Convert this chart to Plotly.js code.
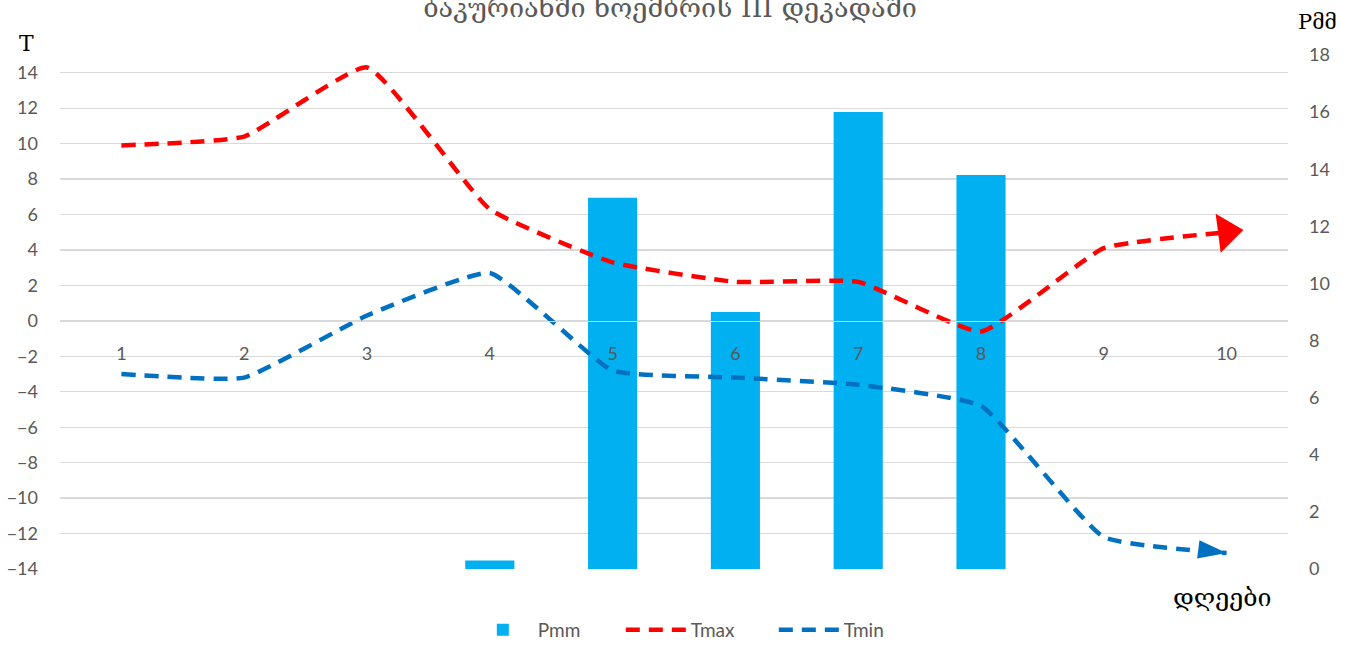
<!DOCTYPE html>
<html>
<head>
<meta charset="utf-8">
<script src="https://cdn.plot.ly/plotly-3.0.1.min.js"></script>
<style>html,body{margin:0;padding:0;background:#fff;}#chart{width:1359px;height:653px;}</style>
</head>
<body>
<div id="chart"></div>
<script>
// ---- data ----
const days = [1, 2, 3, 4, 5, 6, 7, 8, 9, 10];
const dayLabels = ['1', '2', '3', '4', '5', '6', '7', '8', '9', '10'];
const pmm = [0, 0, 0, 0.3, 13.0, 9.0, 16.0, 13.8, 0, 0];
const tmax = [9.9, 10.4, 14.3, 6.3, 3.3, 2.2, 2.2, -0.6, 4.1, 5.0];
const tmin = [-3.0, -3.2, 0.3, 2.7, -2.8, -3.2, -3.6, -4.8, -12.2, -13.1];
const leftTicks = [-14, -12, -10, -8, -6, -4, -2, 0, 2, 4, 6, 8, 10, 12, 14];
const rightTicks = [0, 2, 4, 6, 8, 10, 12, 14, 16, 18];
const titleText = 'ბაკურიანში ნოემბრის III დეკადაში';

const tickFont = {family: 'Lato, "Open Sans", sans-serif', size: 18, color: '#595959'};
const lastOnly = (arr, s) => arr.map((v, i) => i === arr.length - 1 ? s : 0);

const traces = [
  {
    type: 'bar', name: 'Pmm', x: days, y: pmm, yaxis: 'y', xaxis: 'x',
    marker: {color: '#00B0F0'}, width: 0.4
  },
  {
    type: 'scatter', mode: 'lines+markers', name: 'Tmax', x: days, y: tmax, yaxis: 'y2', xaxis: 'x',
    line: {color: '#FF0000', width: 4.5, dash: '14px,9px', shape: 'spline', smoothing: 0.4},
    marker: {symbol: 'triangle-up', angleref: 'previous', color: '#FF0000', opacity: 1,
             line: {width: 0}, size: lastOnly(tmax, 34)}
  },
  {
    type: 'scatter', mode: 'lines+markers', name: 'Tmin', x: days, y: tmin, yaxis: 'y2', xaxis: 'x',
    line: {color: '#0070C0', width: 4.5, dash: '14px,9px', shape: 'spline', smoothing: 0.4},
    marker: {symbol: 'arrow', angleref: 'previous', color: '#0070C0', opacity: 1,
             line: {width: 0}, size: lastOnly(tmin, 30)}
  }
];

const layout = {
  width: 1359, height: 653,
  margin: {l: 60, r: 71, t: 55, b: 84, autoexpand: false},
  paper_bgcolor: '#ffffff', plot_bgcolor: '#ffffff',
  showlegend: true,
  title: {text: titleText, x: 0.493, xanchor: 'center', yref: 'container', y: 0.988, yanchor: 'middle',
          font: {family: '"DejaVu Serif", serif', size: 27, color: '#595959'}},
  xaxis: {
    range: [0.5, 10.5], tickvals: days, ticktext: dayLabels,
    anchor: 'free', position: 14 / 29,
    showline: true, linecolor: '#D9D9D9', linewidth: 1.5,
    showgrid: false, zeroline: false, ticks: '',
    ticklabelstandoff: 16, tickfont: tickFont, fixedrange: true
  },
  yaxis: {
    side: 'right', range: [0, 18], tickvals: rightTicks,
    showgrid: false, zeroline: false, showline: false, ticks: '',
    ticklabelstandoff: 20, tickfont: tickFont
  },
  yaxis2: {
    side: 'left', overlaying: 'y', range: [-14, 15], tickvals: leftTicks,
    showgrid: true, gridcolor: '#D9D9D9', gridwidth: 1.3,
    zeroline: false, showline: false, ticks: '',
    ticklabelstandoff: 21, tickfont: tickFont
  },
  legend: {
    orientation: 'h', x: 0.519, xanchor: 'center', yref: 'container', y: 1 - 630 / 653, yanchor: 'middle',
    font: {family: 'Lato, "Open Sans", sans-serif', size: 19, color: '#595959'},
    itemwidth: 60, entrywidth: 78, traceorder: 'normal'
  },
  annotations: [
    {text: 'T', xref: 'paper', yref: 'paper', x: -0.027, y: 1.023, xanchor: 'center', yanchor: 'middle',
     showarrow: false, font: {family: '"DejaVu Serif", "Liberation Serif", serif', size: 22, color: '#000'}},
    {text: 'Pმმ', xref: 'paper', yref: 'paper', x: 1.024, y: 1.064, xanchor: 'center', yanchor: 'middle',
     showarrow: false, font: {family: '"DejaVu Serif", "Liberation Serif", serif', size: 21, color: '#000'}},
    {text: 'დღეები', xref: 'paper', yref: 'paper', x: 0.947, y: -0.056, xanchor: 'center', yanchor: 'middle',
     showarrow: false, font: {family: '"DejaVu Serif", serif', size: 25, color: '#000'}}
  ]
};

Plotly.newPlot('chart', traces, layout, {displayModeBar: false, staticPlot: true});
</script>
</body>
</html>
